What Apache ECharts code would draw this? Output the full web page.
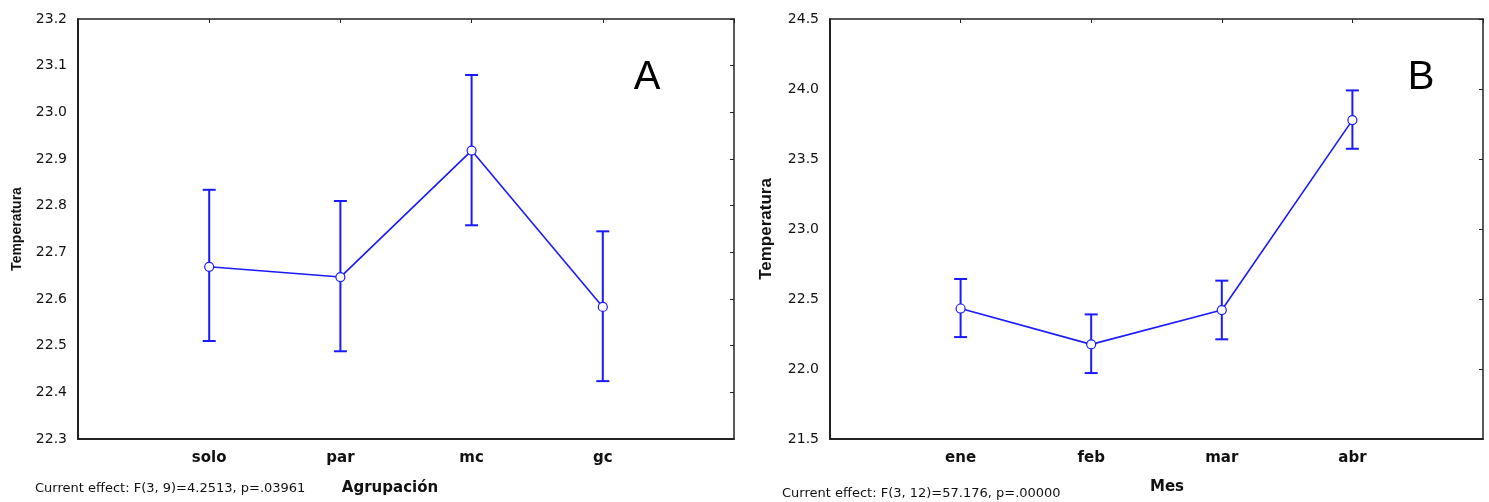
<!DOCTYPE html>
<html>
<head>
<meta charset="utf-8">
<script src="https://cdn.jsdelivr.net/npm/echarts@6/dist/echarts.min.js"></script>
<style>html,body{margin:0;padding:0;background:#fff;}#c{width:1489px;height:502px;}</style>
</head>
<body>
<div id="c"></div>
<script>
const catA = ['solo', 'par', 'mc', 'gc'];
const meanA = [22.669, 22.647, 22.918, 22.583];
const upperA = [22.834, 22.810, 23.080, 22.745];
const lowerA = [22.510, 22.488, 22.758, 22.424];
const ticksA = { min: 22.3, max: 23.2, interval: 0.1 };

const catB = ['ene', 'feb', 'mar', 'abr'];
const meanB = [22.432, 22.176, 22.421, 23.778];
const upperB = [22.643, 22.390, 22.631, 23.990];
const lowerB = [22.228, 21.971, 22.212, 23.573];
const ticksB = { min: 21.5, max: 24.5, interval: 0.5 };

const BLUE = '#1a1aff';
const padCats = c => [''].concat(c).concat([' ']);

function xAxes(cats, gi) {
  return [
    { type: 'category', gridIndex: gi, position: 'bottom', data: padCats(cats), boundaryGap: false,
      axisLine: { lineStyle: { color: '#222', width: 2 } }, axisTick: { show: false },
      axisLabel: { margin: 12, color: '#111', fontFamily: 'DejaVu Sans', fontWeight: 'bold', fontSize: 15 } },
    { type: 'category', gridIndex: gi, position: 'top', data: padCats(cats), boundaryGap: false,
      axisLine: { lineStyle: { color: '#222', width: 1.5 } },
      axisTick: { show: true, inside: true, length: 4, lineStyle: { color: '#222' } },
      axisLabel: { show: false } }
  ];
}
function yAxes(t, gi, nameSize, nameGap, lblSize) {
  return [
    { type: 'value', gridIndex: gi, position: 'left', min: t.min, max: t.max, interval: t.interval,
      name: 'Temperatura', nameLocation: 'middle', nameGap: nameGap,
      nameTextStyle: { fontFamily: 'Liberation Sans', fontWeight: 'bold', fontSize: nameSize, color: '#111' },
      axisLine: { show: true, lineStyle: { color: '#222', width: 2 } }, axisTick: { show: false },
      splitLine: { show: false },
      axisLabel: { margin: 11, color: '#111', fontFamily: 'DejaVu Sans', fontSize: lblSize, formatter: v => v.toFixed(1) } },
    { type: 'value', gridIndex: gi, position: 'right', min: t.min, max: t.max, interval: t.interval,
      axisLine: { show: true, lineStyle: { color: '#222', width: 1.5 } },
      axisTick: { show: true, inside: true, length: 4, lineStyle: { color: '#222' } },
      splitLine: { show: false }, axisLabel: { show: false } }
  ];
}
function errSeries(lo, hi, xi, yi) {
  return {
    type: 'custom', xAxisIndex: xi, yAxisIndex: yi, z: 2,
    data: lo.map((v, i) => [i + 1, v, hi[i]]),
    renderItem: function (params, api) {
      const a = api.coord([api.value(0), api.value(1)]);
      const b = api.coord([api.value(0), api.value(2)]);
      const w = 6.5;
      const st = { stroke: BLUE, lineWidth: 2 };
      return { type: 'group', children: [
        { type: 'line', shape: { x1: a[0], y1: a[1], x2: b[0], y2: b[1] }, style: st },
        { type: 'line', shape: { x1: a[0] - w, y1: a[1], x2: a[0] + w, y2: a[1] }, style: st },
        { type: 'line', shape: { x1: b[0] - w, y1: b[1], x2: b[0] + w, y2: b[1] }, style: st }
      ] };
    }
  };
}
function lineSeries(m, xi, yi) {
  return {
    type: 'line', xAxisIndex: xi, yAxisIndex: yi, z: 3,
    data: m.map((v, i) => [i + 1, v]),
    symbol: 'circle', symbolSize: 9,
    itemStyle: { color: '#fff', borderColor: BLUE, borderWidth: 1.2 },
    lineStyle: { color: BLUE, width: 1.6 },
    animation: false
  };
}

const chart = echarts.init(document.getElementById('c'), null, { renderer: 'canvas' });
chart.setOption({
  animation: false,
  backgroundColor: '#fff',
  grid: [
    { left: 78, top: 19, width: 656, height: 420 },
    { left: 830, top: 19, width: 653, height: 420 }
  ],
  xAxis: xAxes(catA, 0).concat(xAxes(catB, 1)),
  yAxis: yAxes(ticksA, 0, 14, 54, 14).concat(yAxes(ticksB, 1, 17, 55, 14)),
  series: [
    errSeries(lowerA, upperA, 0, 0), lineSeries(meanA, 0, 0),
    errSeries(lowerB, upperB, 2, 2), lineSeries(meanB, 2, 2)
  ],
  graphic: [
    { type: 'text', left: 35, top: 482, style: { text: 'Current effect: F(3, 9)=4.2513, p=.03961', fontFamily: 'DejaVu Sans', fontSize: 13, fill: '#111' } },
    { type: 'text', x: 390, y: 488, style: { text: 'Agrupación', fontFamily: 'DejaVu Sans', fontWeight: 'bold', fontSize: 15, fill: '#111', align: 'center', verticalAlign: 'middle' } },
    { type: 'text', left: 782, top: 487, style: { text: 'Current effect: F(3, 12)=57.176, p=.00000', fontFamily: 'DejaVu Sans', fontSize: 13, fill: '#111' } },
    { type: 'text', x: 1167, y: 487, style: { text: 'Mes', fontFamily: 'DejaVu Sans', fontWeight: 'bold', fontSize: 15, fill: '#111', align: 'center', verticalAlign: 'middle' } },
    { type: 'text', x: 647, y: 78, style: { text: 'A', fontFamily: 'Liberation Sans', fontSize: 40, fill: '#000', align: 'center', verticalAlign: 'middle' } },
    { type: 'text', x: 1421, y: 78, style: { text: 'B', fontFamily: 'Liberation Sans', fontSize: 40, fill: '#000', align: 'center', verticalAlign: 'middle' } }
  ]
});
</script>
</body>
</html>
